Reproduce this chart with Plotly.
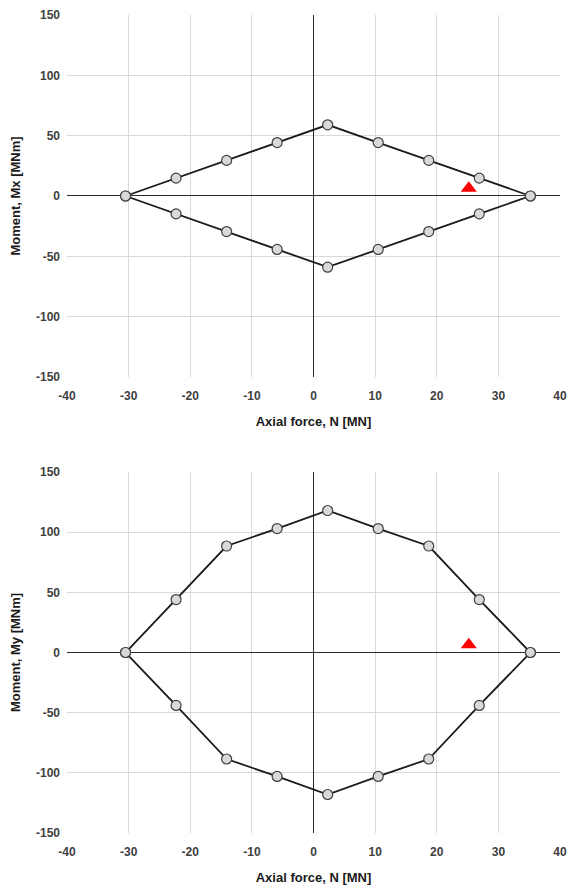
import plotly.graph_objects as go
from plotly.subplots import make_subplots

# Data
axial_N = [-30.5, -22.3, -14.1, -5.9, 2.3, 10.5, 18.7, 26.9, 35.2]
mx_upper = [0, 14.8, 29.5, 44.3, 59, 44.3, 29.5, 14.8, 0]
my_upper = [0, 44, 88.5, 103, 118, 103, 88.5, 44, 0]
load_N = [25.2]
load_Mx = [6.5]
load_My = [6.5]
x_ticks = [-40, -30, -20, -10, 0, 10, 20, 30, 40]
y_ticks = [-150, -100, -50, 0, 50, 100, 150]


def closed(xs, ys):
    # upper branch left->right, then lower branch right->left (mirror)
    cx = list(xs) + list(reversed(xs))
    cy = list(ys) + [-v for v in reversed(ys)]
    return cx, cy


fig = make_subplots(rows=2, cols=1, vertical_spacing=0.116)

for row, yvals, loadv in [(1, mx_upper, load_Mx), (2, my_upper, load_My)]:
    cx, cy = closed(axial_N, yvals)
    fig.add_trace(go.Scatter(
        x=cx, y=cy, mode="lines+markers",
        line=dict(color="#1a1a1a", width=1.8),
        marker=dict(symbol="circle", size=10, color="#d9d9d9",
                    line=dict(color="#404040", width=1.2)),
        showlegend=False, hoverinfo="x+y"), row=row, col=1)
    fig.add_trace(go.Scatter(
        x=load_N, y=loadv, mode="markers",
        marker=dict(symbol="triangle-up", size=14, color="#ff0000",
                    line=dict(width=0)),
        showlegend=False), row=row, col=1)

axis_font = dict(family="Liberation Sans, Arial", size=12, color="#404040")
title_font = dict(family="Liberation Sans, Arial", size=13, color="#1a1a1a")

for row, ytitle in [(1, "<b>Moment, Mx [MNm]</b>"), (2, "<b>Moment, My [MNm]</b>")]:
    fig.update_xaxes(range=[-40, 40], tickvals=x_ticks,
                     ticktext=[f"<b>{t}</b>" for t in x_ticks],
                     showgrid=True, gridcolor="#d9d9d9", gridwidth=1,
                     zeroline=True, zerolinecolor="#2a2a2a", zerolinewidth=1.4,
                     showline=False, ticks="", tickfont=axis_font,
                     ticklabelstandoff=10, automargin=False,
                     title=dict(text="<b>Axial force, N [MN]</b>", font=title_font, standoff=14),
                     row=row, col=1)
    fig.update_yaxes(range=[-150, 150], tickvals=y_ticks,
                     ticktext=[f"<b>{t}</b>" for t in y_ticks],
                     showgrid=True, gridcolor="#d9d9d9", gridwidth=1,
                     zeroline=True, zerolinecolor="#2a2a2a", zerolinewidth=1.4,
                     showline=False, ticks="", tickfont=axis_font,
                     ticklabelstandoff=6, automargin=False,
                     title=dict(text=ytitle, font=title_font, standoff=12),
                     row=row, col=1)

fig.update_layout(
    width=568, height=888,
    margin=dict(l=67, r=8, t=15, b=55),
    plot_bgcolor="white", paper_bgcolor="white",
    yaxis=dict(domain=[0.5575, 1.0]),
    yaxis2=dict(domain=[0.0, 0.4413]),
)

fig.write_html("out.html",
               config={"displayModeBar": False},
               post_script="document.body.style.margin='0';document.body.style.padding='0';document.body.style.overflow='hidden';")
